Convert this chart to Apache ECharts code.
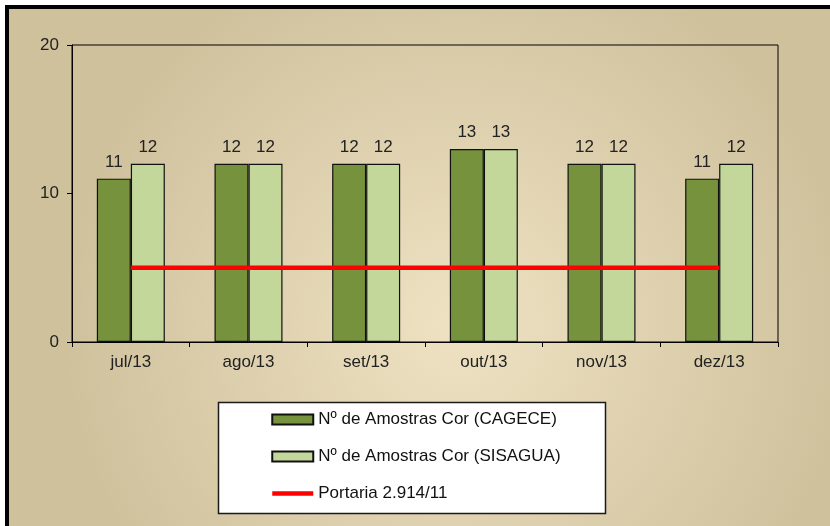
<!DOCTYPE html>
<html><head><meta charset="utf-8">
<script src="https://cdn.jsdelivr.net/npm/echarts@6/dist/echarts.min.js"></script>
<style>html,body{margin:0;padding:0;background:#fff;}#c{width:830px;height:526px;}</style>
</head><body><div id="c"></div>
<script>
const categories = ['jul/13','ago/13','set/13','out/13','nov/13','dez/13'];
const cagece = [11,12,12,13,12,11];
const sisagua = [12,12,12,13,12,12];
const portaria = [5,5,5,5,5,5];
const yTicks = {min:0, max:20, interval:10};

const chart = echarts.init(document.getElementById('c'), null, {renderer:'canvas'});
const font = '"Liberation Sans", Arial, sans-serif';
chart.setOption({
  animation:false,
  backgroundColor: new echarts.graphic.RadialGradient(0.55, 0.62, 0.75, [
    {offset:0, color:'#efe2c3'},
    {offset:1, color:'#cfc19c'}
  ]),
  graphic:[
    {type:'rect', z:0, shape:{x:0,y:0,width:830,height:5}, style:{fill:'#fff'}},
    {type:'rect', z:0, shape:{x:0,y:0,width:5,height:526}, style:{fill:'#fff'}},
    {type:'rect', z:0, shape:{x:5,y:5,width:825,height:4}, style:{fill:'#000'}},
    {type:'rect', z:0, shape:{x:5,y:5,width:4,height:521}, style:{fill:'#000'}},
    {type:'rect', z:1, shape:{x:218.5,y:402.5,width:387,height:111}, style:{fill:'#fff', stroke:'#1a1a1a', lineWidth:1.5}}
  ],
  grid:{left:72, right:52, top:45, bottom:184, show:true, borderColor:'#000', borderWidth:1, backgroundColor:'transparent'},
  legend:{
    orient:'vertical', left:265, top:406, itemGap:20, itemWidth:41, itemHeight:10,
    textStyle:{fontSize:17, fontFamily:font, color:'#111'},
    data:[
      {name:'Nº de Amostras Cor (CAGECE)', icon:'rect', itemStyle:{borderWidth:2}},
      {name:'Nº de Amostras Cor (SISAGUA)', icon:'rect', itemStyle:{borderWidth:2}},
      {name:'Portaria 2.914/11', itemStyle:{opacity:0}, lineStyle:{width:4.5}}
    ]
  },
  xAxis:{
    type:'category', data:categories,
    axisLine:{lineStyle:{color:'#000', width:1}},
    axisTick:{show:true, length:5, lineStyle:{color:'#000'}},
    axisLabel:{fontSize:17, fontFamily:font, color:'#222', margin:12},
    splitLine:{show:false}
  },
  yAxis:{
    type:'value', min:yTicks.min, max:yTicks.max, interval:yTicks.interval,
    axisLine:{show:true, lineStyle:{color:'#000', width:1}},
    axisTick:{show:true, length:5, lineStyle:{color:'#000'}},
    axisLabel:{fontSize:17, fontFamily:font, color:'#222', margin:13},
    splitLine:{show:false}
  },
  series:[
    {name:'Nº de Amostras Cor (CAGECE)', type:'bar', data:cagece, barWidth:34, barGap:'0%',
     itemStyle:{color:'#76923c', borderColor:'#111', borderWidth:1.2},
     label:{show:true, position:'top', distance:8, fontSize:17, fontFamily:font, color:'#222'}},
    {name:'Nº de Amostras Cor (SISAGUA)', type:'bar', data:sisagua, barWidth:34, barGap:'0%',
     itemStyle:{color:'#c4d79b', borderColor:'#111', borderWidth:1.2},
     label:{show:true, position:'top', distance:8, fontSize:17, fontFamily:font, color:'#222'}},
    {name:'Portaria 2.914/11', type:'line', data:portaria, symbol:'none', z:5,
     lineStyle:{color:'#ff0000', width:4.5}, itemStyle:{color:'#ff0000'}}
  ]
});
</script></body></html>
